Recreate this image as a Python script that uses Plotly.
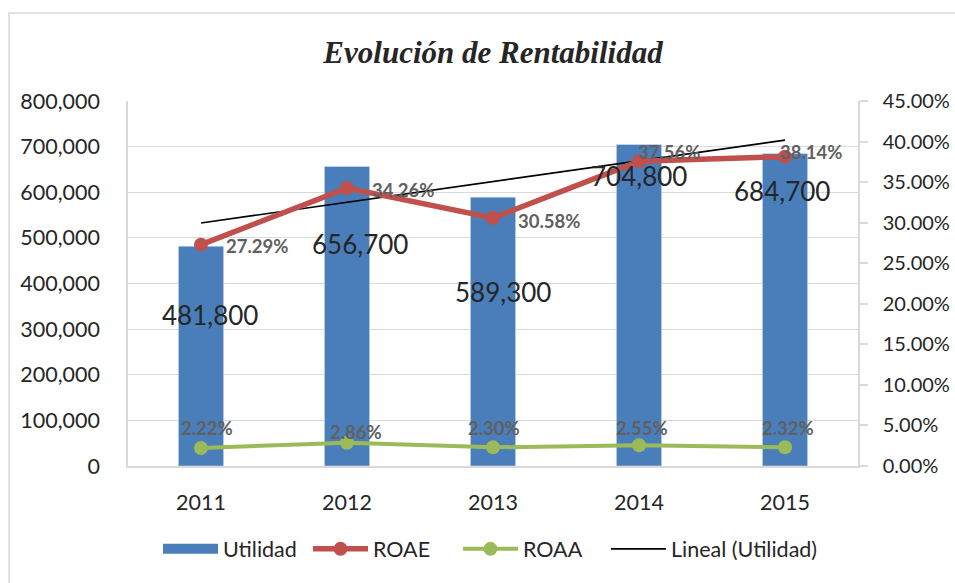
import numpy as np
import plotly.graph_objects as go

# ---- data ----
years = ["2011", "2012", "2013", "2014", "2015"]
utilidad = [481800, 656700, 589300, 704800, 684700]
roae = [0.2729, 0.3426, 0.3058, 0.3756, 0.3814]
roaa = [0.0222, 0.0286, 0.0230, 0.0255, 0.0232]
left_ticks = [0, 100000, 200000, 300000, 400000, 500000, 600000, 700000, 800000]
right_ticks = [0.0, 0.05, 0.10, 0.15, 0.20, 0.25, 0.30, 0.35, 0.40, 0.45]

# ---- label placement tweaks (pixels) ----
bar_lbl_dx = [9, 13, 10, 0, -3]
bar_lbl_dy = [-69, -78, -95, -32, -37]
roae_lbl_dx = [23, 23, 23, -3, -7]
roae_lbl_dy = [-1, -2, -3, 9, 5]
roaa_lbl_dx = [6, 9, 1, 3, 3]
roaa_lbl_dy = [20, 11, 19, 17, 19]

BLUE = "#4A7EBB"
RED = "#C0504D"
GREEN = "#9BBB59"
GRID = "#D9D9D9"
TXT = "#262626"
PCT = "#606060"
FONT = "Lato, sans-serif"
TICK = 21.5

# linear trend of Utilidad
xi = np.arange(1, len(utilidad) + 1)
slope, intercept = np.polyfit(xi, utilidad, 1)
trend = slope * xi + intercept

fig = go.Figure()
fig.add_trace(go.Bar(x=years, y=utilidad, name="Utilidad", marker_color=BLUE,
                     width=0.31, yaxis="y", showlegend=False, legendgroup="u"))
# legend swatch for the bars (wide rectangle like the reference)
fig.add_trace(go.Scatter(x=[None], y=[None], name="Utilidad", mode="lines",
                         line=dict(color=BLUE, width=14), legendgroup="u"))
fig.add_trace(go.Scatter(x=years, y=roae, name="ROAE", mode="lines+markers",
                         line=dict(color=RED, width=5.5),
                         marker=dict(color=RED, size=14), yaxis="y2"))
fig.add_trace(go.Scatter(x=years, y=roaa, name="ROAA", mode="lines+markers",
                         line=dict(color=GREEN, width=4),
                         marker=dict(color=GREEN, size=14), yaxis="y2"))
fig.add_trace(go.Scatter(x=years, y=trend.tolist(), name="Lineal (Utilidad)", mode="lines",
                         line=dict(color="black", width=1.6), yaxis="y",
                         legend="legend2"))

ann = []
for i, y in enumerate(years):
    ann.append(dict(x=i, y=float(utilidad[i]), xref="x", yref="y",
                    text=f"{utilidad[i]:,}",
                    showarrow=False, xshift=bar_lbl_dx[i], yshift=bar_lbl_dy[i],
                    font=dict(family=FONT, size=26, color=TXT)))
    ann.append(dict(x=i, y=roae[i], xref="x", yref="y2",
                    text=f"<b>{roae[i]*100:.2f}%</b>",
                    showarrow=False, xanchor="left", xshift=roae_lbl_dx[i],
                    yshift=roae_lbl_dy[i],
                    font=dict(family=FONT, size=18.5, color=PCT)))
    ann.append(dict(x=i, y=roaa[i], xref="x", yref="y2",
                    text=f"<b>{roaa[i]*100:.2f}%</b>",
                    showarrow=False, xanchor="center", xshift=roaa_lbl_dx[i],
                    yshift=roaa_lbl_dy[i],
                    font=dict(family=FONT, size=18.5, color=PCT)))

legend_common = dict(orientation="h", xanchor="left", y=-0.227, yanchor="middle",
                     font=dict(family=FONT, size=TICK, color=TXT), itemwidth=55,
                     traceorder="normal", bgcolor="rgba(0,0,0,0)")

fig.update_layout(
    width=955, height=583,
    margin=dict(l=128, r=97, t=101, b=117),
    paper_bgcolor="white", plot_bgcolor="white",
    font=dict(family=FONT, size=TICK, color=TXT),
    title=dict(text="<b><i>Evolución de Rentabilidad</i></b>", x=0.5, xref="paper",
               y=1 - 52 / 583, yanchor="middle",
               font=dict(family="Liberation Serif, DejaVu Serif, serif", size=31, color=TXT)),
    showlegend=True,
    legend=dict(x=(158 - 128) / 730, entrywidth=80, entrywidthmode="pixels",
                **legend_common),
    legend2=dict(x=(606 - 128) / 730, **legend_common),
    xaxis=dict(type="category", range=[-0.5, 4.5], showline=True, linecolor=GRID,
               linewidth=1.5, ticks="", ticklabelstandoff=16, showgrid=False,
               automargin=False,
               tickfont=dict(family=FONT, size=TICK, color=TXT)),
    yaxis=dict(range=[0, 800000], tickvals=left_ticks, tickformat=",",
               showline=True, linecolor=GRID, linewidth=1.5, showgrid=True,
               gridcolor=GRID, gridwidth=1.3, zeroline=False, ticks="",
               ticklabelstandoff=22, automargin=False,
               tickfont=dict(family=FONT, size=TICK, color=TXT)),
    yaxis2=dict(range=[0, 0.45], tickvals=right_ticks, tickformat=".2%",
                overlaying="y", side="right", showline=True, linecolor=GRID,
                linewidth=1.5, showgrid=False, zeroline=False, ticks="outside",
                ticklen=8, tickcolor=GRID, tickwidth=1.5, ticklabelstandoff=11,
                automargin=False,
                tickfont=dict(family=FONT, size=20, color=TXT)),
    annotations=ann,
    shapes=[dict(type="rect", xref="paper", yref="paper",
                 x0=(9 - 128) / 730, x1=(975 - 128) / 730,
                 y0=(466 - 600) / 365, y1=(466 - 13) / 365,
                 line=dict(color=GRID, width=1.5), layer="below")],
)

fig.write_html("out.html", config={"displayModeBar": False},
               post_script="document.body.style.margin='0';document.body.style.overflow='hidden';")
